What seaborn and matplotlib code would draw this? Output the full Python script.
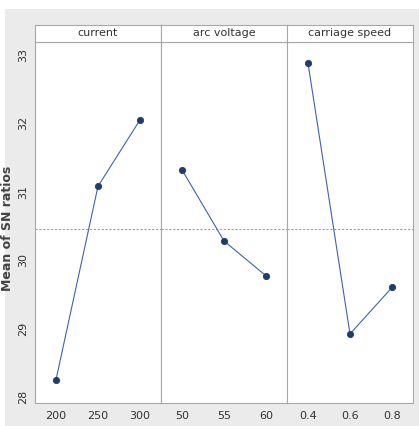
import pandas as pd
import matplotlib.pyplot as plt
import matplotlib.patches as mpatches
import seaborn as sns

# Main effects plot for SN ratios
factors = ["current", "arc voltage", "carriage speed"]
current_levels = ["200", "250", "300"]
current_sn = [28.25, 31.08, 32.05]
voltage_levels = ["50", "55", "60"]
voltage_sn = [31.32, 30.28, 29.77]
speed_levels = ["0.4", "0.6", "0.8"]
speed_sn = [32.88, 28.92, 29.60]
y_ticks = [28, 29, 30, 31, 32, 33]

levels = [current_levels, voltage_levels, speed_levels]
values = [current_sn, voltage_sn, speed_sn]

rows = []
for f, lv, vals in zip(factors, levels, values):
    for l, v in zip(lv, vals):
        rows.append({"factor": f, "level": l, "sn": v})
df = pd.DataFrame(rows)
# overall mean of SN ratios (same for every factor)
grand_mean = sum(current_sn) / len(current_sn)

sns.set_style("white")
plt.rcParams['font.family'] = ['Liberation Sans Narrow', 'DejaVu Sans']

fig = plt.figure(figsize=(4.19, 4.26), dpi=100)
fig.patch.set_facecolor("white")
# light grey frame behind the panels
fig.patches.append(mpatches.Rectangle((5 / 419, 0), 1, 1 - 9 / 426, transform=fig.transFigure,
                                      facecolor="#ebebeb", edgecolor="none", zorder=-5))

left, right = 35 / 419, 413 / 419
bottom, top = 1 - 403 / 426, 1 - 42 / 426
head_top = 1 - 25 / 426
w = (right - left) / 3

for i, f in enumerate(factors):
    ax = fig.add_axes([left + i * w, bottom, w, top - bottom])
    sub = df[df["factor"] == f]
    sns.pointplot(data=sub, x="level", y="sn", order=levels[i], ax=ax,
                  color="#3d64a8", markers="o", markersize=4.5, linewidth=0.8,
                  errorbar=None)
    ax.lines[0].set_markerfacecolor("#1d3c70")
    ax.lines[0].set_markeredgecolor("#1d3c70")
    ax.axhline(grand_mean, color="#9aa0a8", lw=0.8, ls=(0, (2, 1.5)), zorder=0)
    ax.set_xlim(-0.5, 2.5)
    ax.set_ylim(27.91, 33.19)
    ax.set_yticks(y_ticks)
    ax.set_xlabel("")
    ax.set_ylabel("")
    ax.tick_params(axis="x", labelsize=8, colors="#333333", length=2, pad=4)
    if i == 0:
        ax.tick_params(axis="y", labelsize=8, colors="#333333", length=2, pad=3)
        for t in ax.get_yticklabels():
            t.set_rotation(90)
            t.set_va("center")
    else:
        ax.set_yticklabels([])
        ax.tick_params(axis="y", length=0)
    for s in ax.spines.values():
        s.set_color("#a8a8a8")
        s.set_linewidth(0.8)

    # header strip
    hx = fig.add_axes([left + i * w, top, w, head_top - top])
    hx.set_xticks([])
    hx.set_yticks([])
    for s in hx.spines.values():
        s.set_color("#a8a8a8")
        s.set_linewidth(0.8)
    hx.text(0.5, 0.5, f, ha="center", va="center", fontsize=8, color="#333333",
            transform=hx.transAxes)

fig.text(8 / 419, 1 - 228 / 426, "Mean of SN ratios", rotation=90, ha="center", va="center",
         fontsize=9, fontweight="bold", color="#444444", family="DejaVu Sans")

fig.savefig("out.png", dpi=100)
